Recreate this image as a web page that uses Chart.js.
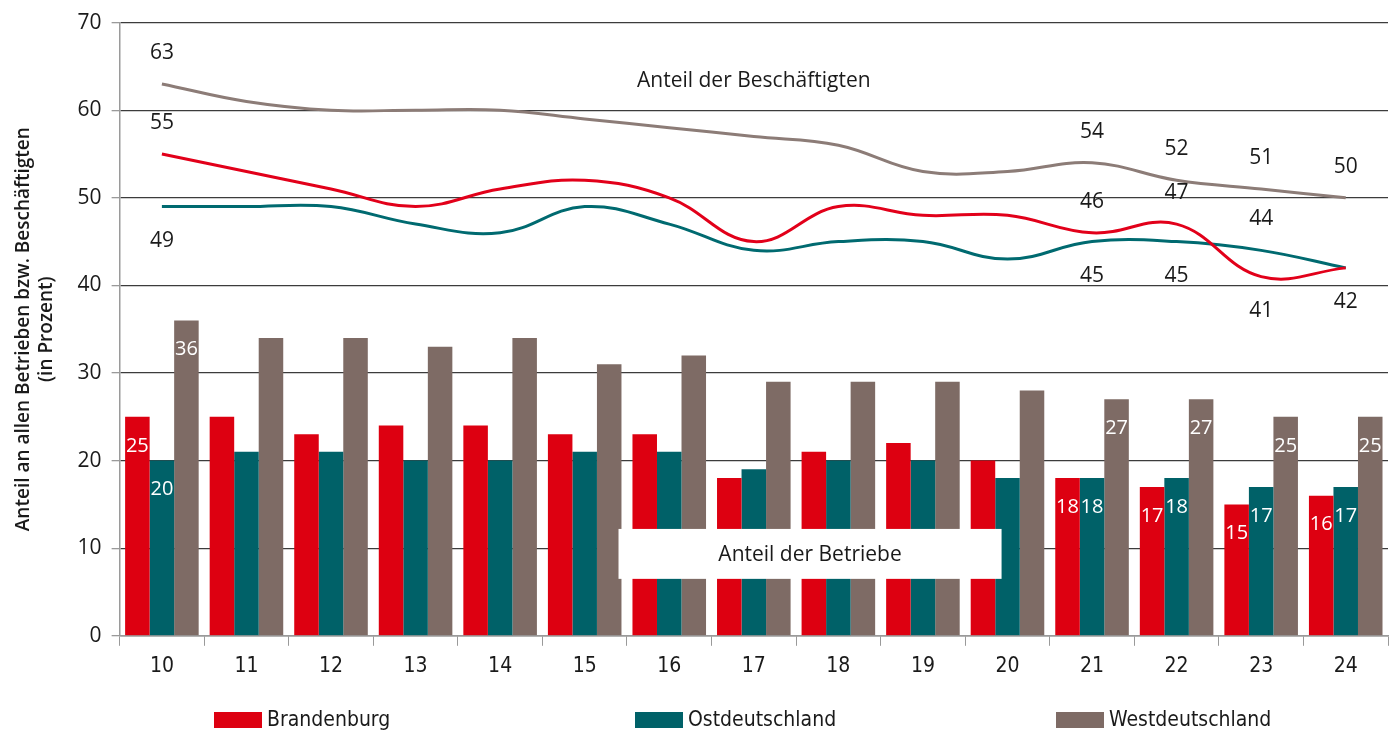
<!DOCTYPE html>
<html>
<head>
<meta charset="utf-8">
<script src="https://cdn.jsdelivr.net/npm/chart.js@4"></script>
<style>
  html, body { margin: 0; padding: 0; background: #fff; }
  #wrap { width: 1394px; height: 733px; }
</style>
</head>
<body>
<div id="wrap"><canvas id="myChart" width="1394" height="733"></canvas></div>
<script>
// chart data
const years = ['10', '11', '12', '13', '14', '15', '16', '17', '18', '19', '20', '21', '22', '23', '24'];
const seriesNames = ['Brandenburg', 'Ostdeutschland', 'Westdeutschland'];

// Anteil der Betriebe (bars)
const betriebeBB = [25, 25, 23, 24, 24, 23, 23, 18, 21, 22, 20, 18, 17, 15, 16];
const betriebeOst = [20, 21, 21, 20, 20, 21, 21, 19, 20, 20, 18, 18, 18, 17, 17];
const betriebeWest = [36, 34, 34, 33, 34, 31, 32, 29, 29, 29, 28, 27, 27, 25, 25];

// Anteil der Beschäftigten (lines)
const beschBB = [55, 53, 51, 49, 51, 52, 50, 45, 49, 48, 48, 46, 47, 41, 42];
const beschOst = [49, 49, 49, 47, 46, 49, 47, 44, 45, 45, 43, 45, 45, 44, 42];
const beschWest = [63, 61, 60, 60, 60, 59, 58, 57, 56, 53, 53, 54, 52, 51, 50];

const yTicks = [0, 10, 20, 30, 40, 50, 60, 70];

// which points get value labels
const barLabelIdx = [0, 11, 12, 13, 14];
// line labels: index -> 'up' / 'down'
const lineLabelBB = { 0: 'up', 11: 'up', 12: 'up', 13: 'down', 14: 'down' };
const lineLabelOst = { 0: 'down', 11: 'down', 12: 'down', 13: 'up' };
const lineLabelWest = { 0: 'up', 11: 'up', 12: 'up', 13: 'up', 14: 'up' };

const RED = '#DD0011';
const TEAL = '#006168';
const GREY = '#7E6B65';
const FONT = "'Open Sans', 'Noto Sans', sans-serif";
const NARROW = "'Liberation Sans Narrow', 'DejaVu Sans Condensed', 'Roboto', sans-serif";

const labelPlugin = {
  id: 'valueLabels',
  afterDatasetsDraw(chart) {
    const ctx = chart.ctx;
    const x = chart.scales.x, y = chart.scales.y;
    ctx.save();

    // white box "Anteil der Betriebe"
    const bx1 = x.getPixelForValue(5.4), bx2 = x.getPixelForValue(9.93);
    const by1 = y.getPixelForValue(12.2), by2 = y.getPixelForValue(6.5);
    ctx.fillStyle = '#fff';
    ctx.fillRect(bx1, by1, bx2 - bx1, by2 - by1);
    ctx.fillStyle = '#1a1a1a';
    ctx.font = '21px ' + FONT;
    ctx.textAlign = 'center';
    ctx.textBaseline = 'middle';
    ctx.fillText('Anteil der Betriebe', (bx1 + bx2) / 2, (by1 + by2) / 2 + 1);

    // title for lines
    ctx.fillText('Anteil der Beschäftigten', x.getPixelForValue(7.0), y.getPixelForValue(63.3));

    // bar labels (white, inside top)
    ctx.fillStyle = '#fff';
    ctx.font = '20px ' + FONT;
    [0, 1, 2].forEach(di => {
      const meta = chart.getDatasetMeta(di);
      const data = chart.data.datasets[di].data;
      barLabelIdx.forEach(i => {
        const el = meta.data[i];
        ctx.fillText(String(data[i]), el.x, el.y + 29);
      });
    });

    // line labels (dark)
    ctx.fillStyle = '#1a1a1a';
    ctx.font = '21px ' + FONT;
    const lineDefs = [[3, lineLabelBB], [4, lineLabelOst], [5, lineLabelWest]];
    lineDefs.forEach(([di, map]) => {
      const meta = chart.getDatasetMeta(di);
      const data = chart.data.datasets[di].data;
      Object.keys(map).forEach(k => {
        const i = +k;
        const el = meta.data[i];
        const dy = map[k] === 'up' ? -31 : 34;
        ctx.fillText(String(data[i]), el.x, el.y + dy);
      });
    });
    ctx.restore();
  },
  // legend spread evenly like the original
  afterDraw(chart) {
    const ctx = chart.ctx;
    ctx.save();
    ctx.font = '21px ' + NARROW;
    ctx.textBaseline = 'middle';
    ctx.textAlign = 'left';
    const ly = chart.height - 13;
    for (let i = 0; i < 3; i++) {
      const ds = chart.data.datasets[i];
      const lx = 214 + i * 421;
      ctx.fillStyle = ds.backgroundColor;
      ctx.fillRect(lx, ly - 8, 48, 16);
      ctx.fillStyle = '#1a1a1a';
      ctx.fillText(ds.label, lx + 53, ly + 1);
    }
    ctx.restore();
  }
};

const lineStyle = {
  type: 'line',
  borderWidth: 3,
  pointRadius: 0,
  tension: 0.4,
  fill: false
};

new Chart(document.getElementById('myChart'), {
  type: 'bar',
  data: {
    labels: years,
    datasets: [
      { label: seriesNames[0], data: betriebeBB, backgroundColor: RED, order: 2 },
      { label: seriesNames[1], data: betriebeOst, backgroundColor: TEAL, order: 2 },
      { label: seriesNames[2], data: betriebeWest, backgroundColor: GREY, order: 2 },
      { ...lineStyle, label: seriesNames[0] + ' B', data: beschBB, borderColor: '#E2001A', order: 1 },
      { ...lineStyle, label: seriesNames[1] + ' B', data: beschOst, borderColor: '#006A70', order: 1 },
      { ...lineStyle, label: seriesNames[2] + ' B', data: beschWest, borderColor: '#8C7C77', order: 1 }
    ]
  },
  options: {
    responsive: false,
    animation: false,
    layout: { padding: { top: 12, right: 6, left: 12, bottom: 46 } },
    datasets: { bar: { categoryPercentage: 0.87, barPercentage: 1.0 } },
    plugins: {
      tooltip: { enabled: false },
      legend: { display: false }
    },
    scales: {
      x: {
        grid: { offset: true, drawOnChartArea: false, drawTicks: true, tickLength: 10, color: '#9a9a9a' },
        border: { color: '#9a9a9a', width: 1.5 },
        ticks: { color: '#1a1a1a', font: { family: NARROW, size: 21 }, padding: 8 }
      },
      y: {
        min: 0,
        max: 70,
        afterBuildTicks: axis => { axis.ticks = yTicks.map(v => ({ value: v })); },
        grid: { color: '#3c3c3c', lineWidth: 1.3, tickLength: 8, tickColor: '#9a9a9a' },
        border: { color: '#9a9a9a', width: 1.5 },
        ticks: { color: '#1a1a1a', font: { family: FONT, size: 21 }, padding: 10 },
        title: {
          display: true,
          text: ['Anteil an allen Betrieben bzw. Beschäftigten', '(in Prozent)'],
          color: '#1a1a1a',
          font: { family: FONT, size: 19, weight: '600', lineHeight: 1.2 },
          padding: { top: 0, bottom: 10 }
        }
      }
    }
  },
  plugins: [labelPlugin]
});
</script>
</body>
</html>
